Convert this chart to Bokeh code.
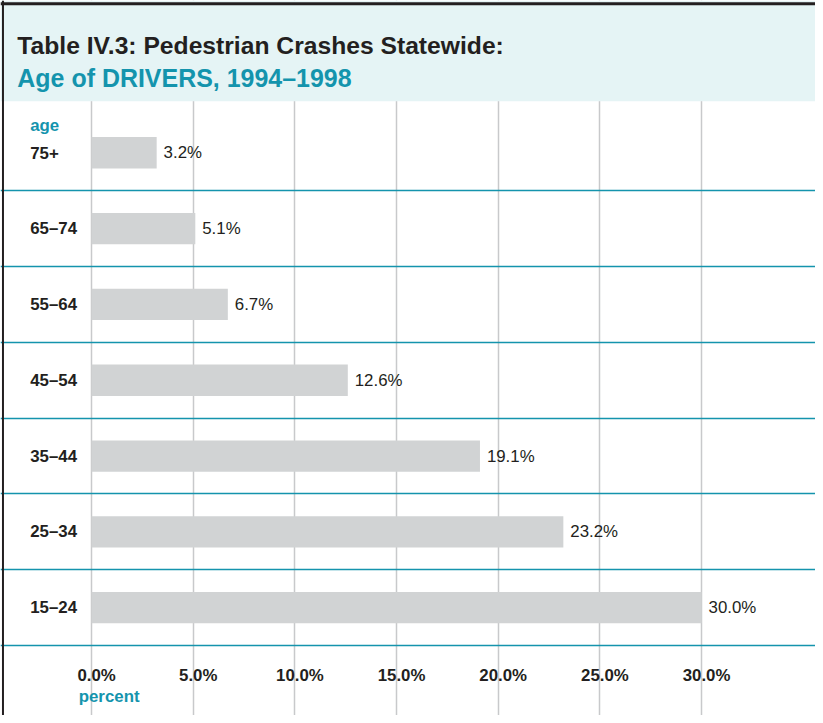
from bokeh.plotting import figure
from bokeh.models import Range1d, FixedTicker, Grid, BoxAnnotation, Span, Label, ColumnDataSource
from bokeh.core.properties import value
from bokeh.embed import file_html
from bokeh.resources import INLINE

# ---- data ----
categories = ["15–24", "25–34", "35–44", "45–54", "55–64", "65–74", "75+"]
values = [30.0, 23.2, 19.1, 12.6, 6.7, 5.1, 3.2]
value_labels = ["30.0%", "23.2%", "19.1%", "12.6%", "6.7%", "5.1%", "3.2%"]
tick_values = [0, 5, 10, 15, 20, 25, 30]
tick_labels = ["0.0%", "5.0%", "10.0%", "15.0%", "20.0%", "25.0%", "30.0%"]

title_text = "Table IV.3:  Pedestrian Crashes Statewide:"
subtitle_text = "Age of DRIVERS, 1994–1998"

DARK = "#231f20"
TEAL = "#1494ad"
HEADER_BG = "#e5f4f5"
BAR = "#d1d3d4"
GRID_GRAY = "#c8c9cb"
FONT = "Liberation Sans"

REF_W, REF_H = 823, 723
W, H = 815, 715       # fits inside the window with the 8px page margin
S = W / REF_W         # overall scale

X0_PX = 92.0          # reference pixel of 0 %
PX_PER_PCT = 20.533   # reference pixels per percent
ROW0_PX = 614.0       # reference pixel centre of first row (bottom)
ROW_PX = 76.67        # reference pixels per row

def px_x(px):
    return (px - X0_PX) / PX_PER_PCT

def px_y(py):
    return (ROW0_PX - py) / ROW_PX

def fs(px):
    return f"{px * S:.2f}px"

ypos = list(range(len(categories)))

p = figure(width=W, height=H, output_backend="svg", toolbar_location=None,
           x_range=Range1d(px_x(0), px_x(REF_W)), y_range=Range1d(px_y(REF_H), px_y(0)),
           x_axis_location=None, y_axis_location=None,
           min_border=0, outline_line_color=None,
           background_fill_color="white", border_fill_color="white")
p.center = []

# grids
p.add_layout(Grid(dimension=0, ticker=FixedTicker(ticks=tick_values),
                  grid_line_color=GRID_GRAY, grid_line_width=1.5), "center")
p.add_layout(Grid(dimension=1, ticker=FixedTicker(ticks=[y - 0.5 for y in ypos]),
                  grid_line_color=TEAL, grid_line_width=1.5), "center")

src = ColumnDataSource(dict(y=ypos, v=values, lab=value_labels, cat=categories))

p.hbar(y="y", left=0, right="v", height=0.413, source=src,
       fill_color=BAR, line_color=None)

p.text(x="v", y="y", text="lab", source=src, x_offset=7 * S,
       text_align="left", text_baseline="middle",
       text_font=value(FONT), text_font_size=fs(17), text_color=DARK)

# category labels (left aligned)
p.text(x=0, y="y", text="cat", source=src, x_offset=-62 * S,
       text_align="left", text_baseline="middle",
       text_font=value(FONT), text_font_size=fs(17), text_font_style="bold",
       text_color=DARK)

# x tick labels
tick_src = ColumnDataSource(dict(x=tick_values, y=[px_y(683)] * len(tick_values), t=tick_labels))
p.text(x="x", y="y", text="t", source=tick_src, x_offset=5 * S,
       text_align="center", text_baseline="middle",
       text_font=value(FONT), text_font_size=fs(17), text_font_style="bold",
       text_color=DARK)

# header background
p.add_layout(BoxAnnotation(bottom=px_y(102), fill_color=HEADER_BG, fill_alpha=1,
                           line_color=None))

p.add_layout(Label(x=px_x(17), y=px_y(46), text=title_text,
                   text_font=FONT, text_font_size=fs(24.9), text_font_style="bold",
                   text_color=DARK, text_align="left", text_baseline="alphabetic"))
p.add_layout(Label(x=px_x(17), y=px_y(78.5), text=subtitle_text,
                   text_font=FONT, text_font_size=fs(25.2), text_font_style="bold",
                   text_color=TEAL, text_align="left", text_baseline="alphabetic"))

# axis titles
p.add_layout(Label(x=px_x(30), y=px_y(126.5), text="age",
                   text_font=FONT, text_font_size=fs(17), text_font_style="bold",
                   text_color=TEAL, text_align="left", text_baseline="alphabetic"))
p.add_layout(Label(x=px_x(79), y=px_y(703.5), text="percent",
                   text_font=FONT, text_font_size=fs(17), text_font_style="bold",
                   text_color=TEAL, text_align="left", text_baseline="alphabetic"))

# borders
p.add_layout(Span(location=px_y(3.3), dimension="width", line_color=DARK, line_width=3))
p.add_layout(Span(location=px_x(2.5), dimension="height", line_color=DARK, line_width=2))

open("out.html", "w").write(file_html(p, INLINE))
